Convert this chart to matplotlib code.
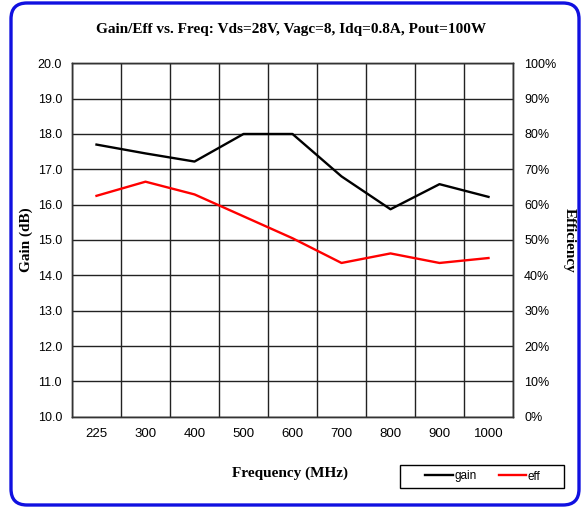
import matplotlib
matplotlib.use("Agg")
import matplotlib.pyplot as plt
from matplotlib.patches import FancyBboxPatch, Rectangle
import numpy as np

freqs = ["225", "300", "400", "500", "600", "700", "800", "900", "1000"]
gain = [17.7, 17.45, 17.22, 18.0, 18.0, 16.8, 15.87, 16.58, 16.22]
eff = [62.5, 66.5, 62.9, 56.7, 50.5, 43.5, 46.2, 43.5, 44.9]
gain_ticks = [10 + i for i in range(11)]
eff_ticks = [10 * i for i in range(11)]

W, H = 582, 508
fig = plt.figure(figsize=(W / 100, H / 100), dpi=100)
fig.patch.set_facecolor("white")

# rounded blue border
r = 16
border = FancyBboxPatch((11 / W, 3 / H), (579 - 11) / W, (505 - 3) / H,
                        boxstyle=f"round,pad=0,rounding_size={r / W}",
                        mutation_aspect=W / H, transform=fig.transFigure,
                        facecolor="none", edgecolor="#1010e0", linewidth=2.4,
                        zorder=0)
fig.patches.append(border)

left, right, top, bottom = 72 / W, 513 / W, 63.3 / H, 416.7 / H
ax = fig.add_axes([left, 1 - bottom, right - left, bottom - top])
ax2 = ax.twinx()

sans = "Liberation Sans"
serif = "Liberation Serif"

n = len(freqs)
x = np.arange(n) + 0.5
ax.set_xlim(0, n)
ax.set_ylim(10, 20)
ax2.set_ylim(0, 100)

ax.set_xticks(np.arange(n + 1))
ax.set_xticklabels([])
ax.set_xticks(x, minor=True)
ax.set_xticklabels(freqs, minor=True, fontfamily=sans, fontsize=9.5)
ax.tick_params(axis="x", which="both", length=0, pad=8)
ax.grid(True, which="major", axis="x", color="#222222", linewidth=1.0)

ax.set_yticks(gain_ticks)
ax.set_yticklabels([f"{v:.1f}" for v in gain_ticks], fontfamily=sans, fontsize=9)
ax.tick_params(axis="y", length=0, pad=7.2)
ax.grid(True, which="major", axis="y", color="#222222", linewidth=1.0)

ax2.set_yticks(eff_ticks)
ax2.set_yticklabels([f"{v}%" for v in eff_ticks], fontfamily=sans, fontsize=9)
ax2.tick_params(axis="y", length=0, pad=8)

for a in (ax, ax2):
    for s in a.spines.values():
        s.set_color("#333333")
        s.set_linewidth(1.0)

l1, = ax.plot(x, gain, color="black", linewidth=1.7, label="gain", zorder=3)
l2, = ax2.plot(x, eff, color="#ff0000", linewidth=1.7, label="eff", zorder=3)

fig.text(0.5, 1 - 30 / H, "Gain/Eff vs. Freq: Vds=28V, Vagc=8, Idq=0.8A, Pout=100W",
         ha="center", va="center", fontfamily=serif, fontweight="bold", fontsize=11)
fig.text(290 / W, 1 - 473 / H, "Frequency (MHz)", ha="center", va="center",
         fontfamily=serif, fontweight="bold", fontsize=11)
fig.text(26 / W, 1 - 240 / H, "Gain (dB)", ha="center", va="center", rotation=90,
         fontfamily=serif, fontweight="bold", fontsize=11)
fig.text(569 / W, 1 - 240 / H, "Efficiency", ha="center", va="center", rotation=270,
         fontfamily=serif, fontweight="bold", fontsize=11)

# legend box
fig.patches.append(Rectangle((400 / W, 1 - 488 / H), 164 / W, 23 / H,
                             transform=fig.transFigure, facecolor="white",
                             edgecolor="black", linewidth=1.0, zorder=1))
leg = fig.legend(handles=[l1, l2], labels=["gain", "eff"], ncol=2,
                 loc="center", bbox_to_anchor=(483 / W, 1 - 476.5 / H),
                 frameon=False, prop={"family": sans, "size": 8.5},
                 handlelength=2.3, handletextpad=0.15, columnspacing=1.9,
                 borderpad=0.2)
leg.set_zorder(2)

fig.savefig("out.png", dpi=100, facecolor="white")
